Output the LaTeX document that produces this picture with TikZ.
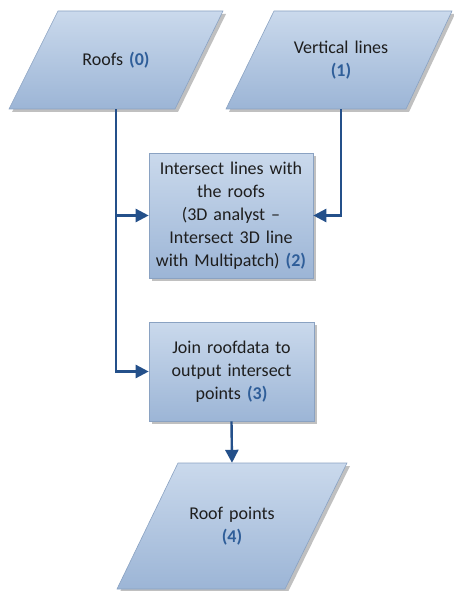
\documentclass[tikz,border=0pt]{standalone}
\usepackage{fontspec}
\setmainfont{Carlito}
\usetikzlibrary{arrows.meta,shadows}

\definecolor{boxtop}{HTML}{CAD9EC}
\definecolor{boxbot}{HTML}{9CB5D6}
\definecolor{boxline}{HTML}{8AA2C2}
\definecolor{flow}{HTML}{24508A}
\definecolor{tag}{HTML}{2F5E99}
\definecolor{ink}{HTML}{1E1E1E}

% step numbers in bold blue
\newcommand{\tagno}[1]{\textcolor{tag}{\bfseries(#1)}}

\tikzset{
  shapefill/.style={top color=boxtop, bottom color=boxbot, draw=boxline, line width=0.6pt,
    drop shadow={shadow xshift=3pt, shadow yshift=-3pt, fill=black!45, opacity=0.55}},
  textholder/.style={text=ink, align=center, font=\fontsize{18}{23}\selectfont,
    inner sep=0pt, text width=#1},
  procbox/.style={shapefill, rectangle, text=ink, align=center,
    font=\fontsize{18}{23}\selectfont, inner sep=0pt, text width=155pt},
  flowline/.style={draw=flow, line width=2.4pt, -{Triangle[length=13pt,width=13pt]}},
}

\begin{document}
\begin{tikzpicture}[x=1pt, y=-1pt]
\useasboundingbox (0,0) rectangle (454,591);

% input data: roofs
\path[shapefill] (58,11) -- (223,11) -- (175,109) -- (9,109) -- cycle;
\node[textholder=150pt, minimum height=98pt] (roofs) at (116,60) {Roofs \tagno{0}};

% input data: vertical lines
\path[shapefill] (274,11) -- (452,11) -- (406,109) -- (226,109) -- cycle;
\node[textholder=150pt, minimum height=98pt] (vlines) at (341,60) {Vertical lines\\\tagno{1}};

% processing steps
\node[procbox, minimum width=164pt, minimum height=125pt] (isect) at (231,215.5)
  {Intersect lines with\\the roofs\\(3D analyst --\\Intersect 3D line\\with Multipatch) \tagno{2}};
\node[procbox, minimum width=165pt, minimum height=99pt] (join) at (231.5,371.5)
  {Join roofdata to\\output intersect\\points \tagno{3}};

% output data: roof points
\path[shapefill] (178,463) -- (347,463) -- (285,589) -- (117,589) -- cycle;
\node[textholder=150pt, minimum height=126pt] (rpoints) at (232,526) {Roof points\\\tagno{4}};

% connectors
\draw[flowline] (roofs.south) |- (join.west);
\draw[flowline] (roofs.south |- isect.west) -- (isect.west);
\draw[flowline] (vlines.south) |- (isect.east);
\draw[flowline] (join.south) -- (rpoints.north);
\end{tikzpicture}
\end{document}
